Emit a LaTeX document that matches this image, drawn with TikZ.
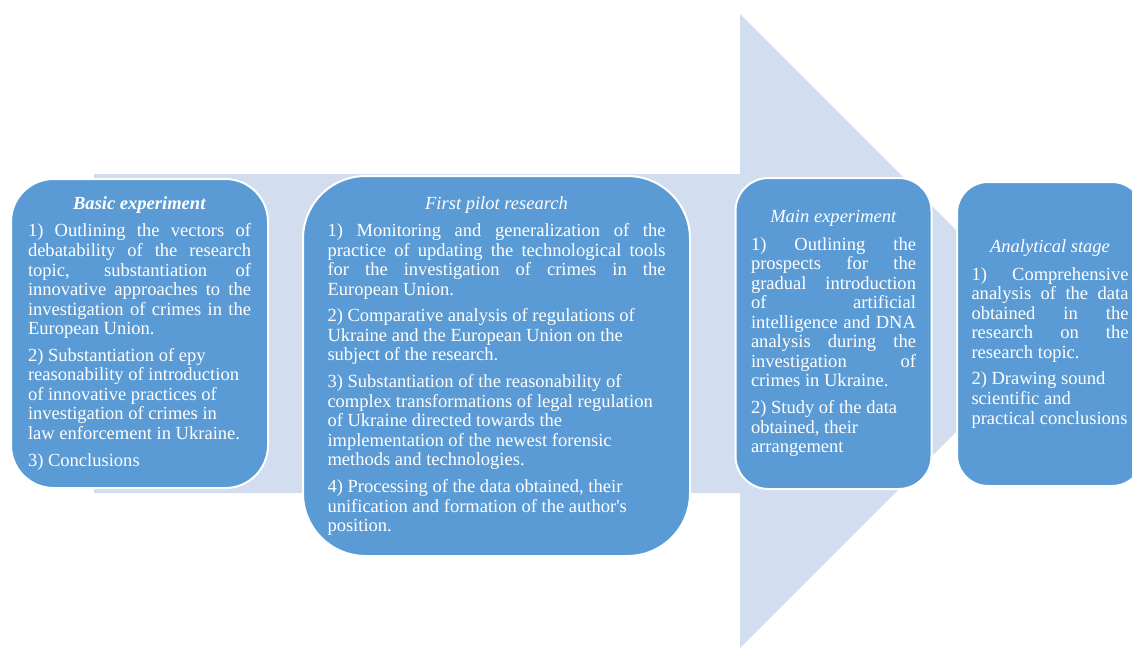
\documentclass[tikz,border=0pt]{standalone}
\usepackage{fontspec}
\setmainfont{Liberation Serif}
\definecolor{arrowFill}{HTML}{D2DEEF}
\definecolor{stageFill}{HTML}{5B9BD5}
\setlength{\parindent}{0pt}
\tolerance=9999
\hyphenpenalty=10000
\newcommand{\stagegap}{\par\vspace{5.4pt}}
\newcommand{\stagetitle}[1]{{\centering #1\par}\vspace{5.8pt}}
\tikzset{
  stage/.style={draw=white, line width=1.5pt, fill=stageFill, text=white,
    inner sep=0pt, align=justify, font=\fontsize{13.9}{14.65}\selectfont},
}

\begin{document}
\begin{tikzpicture}[x=0.75pt, y=-0.75pt]
   \useasboundingbox (0,0) rectangle (1132,647);
   % big arrow behind the stages
   \fill[arrowFill] (94,174) -- (740,174) -- (740,14) -- (1057,331)
        -- (740,648) -- (740,493) -- (94,493) -- cycle;

   \node[stage, minimum width=192.75pt, minimum height=231.75pt,
         rounded corners=32pt, text width=167.25pt] (basic) at (139.5,333.5) {%
     \stagetitle{\textbf{\textit{Basic experiment}}}
     1) Outlining the vectors of\linebreak debatability of the research\linebreak
     topic, substantiation of\linebreak innovative approaches to the\linebreak
     investigation of crimes in the\linebreak European Union.\stagegap
     2) Substantiation of epy\newline reasonability of introduction\newline
     of innovative practices of\newline investigation of crimes in\newline
     law enforcement in Ukraine.\stagegap
     3) Conclusions};

   \node[stage, minimum width=290.25pt, minimum height=285pt,
         rounded corners=47pt, text width=253.5pt] (pilot) at (496.5,366) {%
     \stagetitle{\textit{First pilot research}}
     1) Monitoring and generalization of the\linebreak
     practice of updating the technological tools\linebreak
     for the investigation of crimes in the\linebreak European Union.\stagegap
     2) Comparative analysis of regulations of\newline
     Ukraine and the European Union on the\newline subject of the research.\stagegap
     3) Substantiation of the reasonability of\newline
     complex transformations of legal regulation\newline
     of Ukraine directed towards the\newline
     implementation of the newest forensic\newline
     methods and technologies.\stagegap
     4) Processing of the data obtained, their\newline
     unification and formation of the author\textquotesingle s\newline position.};

   \node[stage, minimum width=147pt, minimum height=233.25pt,
         rounded corners=24.75pt, text width=123.75pt] (main) at (833.5,333.5) {%
     \stagetitle{\textit{Main experiment}}
     1) Outlining the\linebreak prospects for the\linebreak gradual introduction\linebreak
     of artificial\linebreak intelligence and DNA\linebreak analysis during the\linebreak
     investigation of\linebreak crimes in Ukraine.\stagegap
     2) Study of the data\newline obtained, their\newline arrangement};

   \node[stage, minimum width=139.5pt, minimum height=228pt,
         rounded corners=23.25pt, text width=117.75pt] (analytic) at (1050,334) {%
     \stagetitle{\textit{Analytical stage}}
     1) Comprehensive\linebreak analysis of the data\linebreak obtained in the\linebreak
     research on the\linebreak research topic.\stagegap
     2) Drawing sound\newline scientific and\newline practical conclusions};
\end{tikzpicture}
\end{document}
